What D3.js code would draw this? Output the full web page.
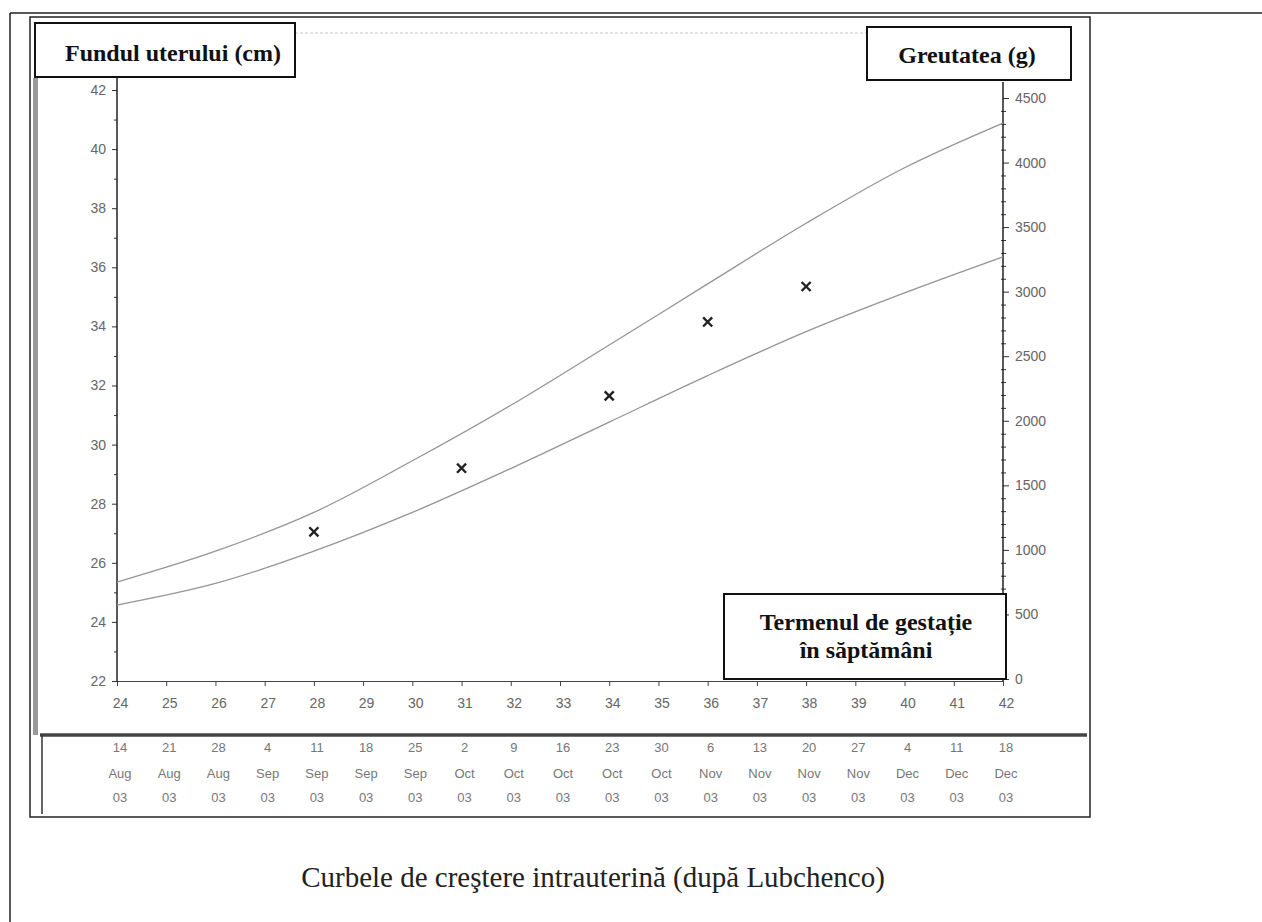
<!DOCTYPE html>
<html>
<head>
<meta charset="utf-8">
<script src="https://cdn.jsdelivr.net/npm/d3@7"></script>
<style>
  html, body { margin: 0; padding: 0; background: #fff; }
  svg { display: block; }
</style>
</head>
<body>
<svg id="chart" width="1262" height="922"></svg>
<script>
// ---------------- DATA ----------------
const weekTicks = [24,25,26,27,28,29,30,31,32,33,34,35,36,37,38,39,40,41,42];
const dateDays = ["14","21","28","4","11","18","25","2","9","16","23","30","6","13","20","27","4","11","18"];
const dateMonths = ["Aug","Aug","Aug","Sep","Sep","Sep","Sep","Oct","Oct","Oct","Oct","Oct","Nov","Nov","Nov","Nov","Dec","Dec","Dec"];
const dateYears = ["03","03","03","03","03","03","03","03","03","03","03","03","03","03","03","03","03","03","03"];

const cmTicks = [22,24,26,28,30,32,34,36,38,40,42];
const gTicks = [0,500,1000,1500,2000,2500,3000,3500,4000,4500];

// growth curves (grams, right axis)
const curveWeeks = [24,26,28,30,32,34,36,38,40,42];
const upperCurve = [751,990,1290,1690,2120,2587,3060,3530,3960,4306];
const lowerCurve = [573,740,990,1290,1630,1990,2350,2690,2990,3269];

// measured fundal height (cm, left axis)
const pointWeeks = [28,31,34,36,38];
const pointCm = [27.05,29.2,31.65,34.15,35.35];

// ---------------- DRAW ----------------
const svg = d3.select("#chart");

const x = d3.scaleLinear().domain([24,42]).range([117,1003]);
const yL = d3.scaleLinear().domain([22,42]).range([681,90]);
const yR = d3.scaleLinear().domain([0,4500]).range([679,98]);

// outer frame
svg.append("line").attr("x1",10).attr("x2",10).attr("y1",13).attr("y2",922)
  .attr("stroke","#222").attr("stroke-width",1.5);
svg.append("line").attr("x1",10).attr("x2",1262).attr("y1",13).attr("y2",13)
  .attr("stroke","#222").attr("stroke-width",1.5);

// inner frame
svg.append("rect").attr("x",30).attr("y",17).attr("width",1060).attr("height",800)
  .attr("fill","none").attr("stroke","#222").attr("stroke-width",1.5);
// left grey band
svg.append("rect").attr("x",33).attr("y",78).attr("width",5).attr("height",657)
  .attr("fill","#9a9a9a");
// top faint plot edge
svg.append("line").attr("x1",295).attr("x2",867).attr("y1",33).attr("y2",33)
  .attr("stroke","#c8c8c8").attr("stroke-width",1).attr("stroke-dasharray","3,2");

// date table separator
svg.append("line").attr("x1",40).attr("x2",1087).attr("y1",735).attr("y2",735)
  .attr("stroke","#444").attr("stroke-width",3.5);
svg.append("line").attr("x1",42).attr("x2",42).attr("y1",735).attr("y2",814)
  .attr("stroke","#333").attr("stroke-width",1.5);

const tickFont = "'Liberation Sans', Arial, sans-serif";

// left axis
const gL = svg.append("g").attr("transform","translate(117,0)")
  .call(d3.axisLeft(yL).tickValues(cmTicks).tickSize(5).tickSizeOuter(0).tickPadding(6));
gL.select(".domain").remove();
gL.selectAll("line").attr("stroke","#333");
gL.selectAll("text").attr("font-family",tickFont).attr("font-size",14).attr("fill","#666");
const gLm = svg.append("g").attr("transform","translate(117,0)")
  .call(d3.axisLeft(yL).tickValues([23,25,27,29,31,33,35,37,39,41]).tickSize(3).tickFormat(""));
gLm.select(".domain").remove();
gLm.selectAll("line").attr("stroke","#333");
svg.append("line").attr("x1",117).attr("x2",117).attr("y1",78).attr("y2",681)
  .attr("stroke","#222").attr("stroke-width",1.5);

// right axis
const gR = svg.append("g").attr("transform","translate(1003,0)")
  .call(d3.axisRight(yR).tickValues(gTicks).tickFormat(d3.format("d")).tickSize(6).tickSizeOuter(0).tickPadding(6));
gR.select(".domain").remove();
gR.selectAll("line").attr("stroke","#333");
gR.selectAll("text").attr("font-family",tickFont).attr("font-size",14).attr("fill","#666");
const minorG = d3.range(100,4600,100).filter(v => v % 500 !== 0);
const gRm = svg.append("g").attr("transform","translate(1003,0)")
  .call(d3.axisRight(yR).tickValues(minorG).tickSize(3).tickFormat(""));
gRm.select(".domain").remove();
gRm.selectAll("line").attr("stroke","#333").attr("x1",-2);
svg.append("line").attr("x1",1003).attr("x2",1003).attr("y1",82).attr("y2",681)
  .attr("stroke","#222").attr("stroke-width",1.5);

// bottom axis
const gB = svg.append("g").attr("transform","translate(0,681)")
  .call(d3.axisBottom(x).tickValues(weekTicks).tickSize(5).tickSizeOuter(0).tickPadding(12));
gB.select(".domain").attr("stroke","#444").attr("stroke-width",1.2);
gB.selectAll("line").attr("stroke","#444");
gB.selectAll("text").attr("font-family",tickFont).attr("font-size",14).attr("fill","#666")
  .attr("dx",3);

// date rows
const dateRows = [dateDays, dateMonths, dateYears];
const rowY = [752, 778, 802];
dateRows.forEach((row, ri) => {
  svg.append("g").selectAll("text").data(row).join("text")
    .attr("x",(d,i) => x(weekTicks[i]) + 3)
    .attr("y", rowY[ri])
    .attr("text-anchor","middle")
    .attr("font-family",tickFont).attr("font-size",13).attr("fill","#777")
    .text(d => d);
});

// curves
const line = d3.line().x((d,i) => x(curveWeeks[i])).y(d => yR(d)).curve(d3.curveCatmullRom.alpha(0.5));
[upperCurve, lowerCurve].forEach(c => {
  svg.append("path").datum(c).attr("d", line)
    .attr("fill","none").attr("stroke","#959595").attr("stroke-width",1.3);
});

// points
svg.append("g").selectAll("path").data(pointCm).join("path")
  .attr("transform",(d,i) => `translate(${x(pointWeeks[i])},${yL(d)})`)
  .attr("d", d3.symbol(d3.symbolTimes, 55)())
  .attr("fill","none").attr("stroke","#222").attr("stroke-width",2.4);

// label boxes
const serif = "'Liberation Serif', 'Times New Roman', serif";
function box(x0, y0, w, h) {
  svg.append("rect").attr("x",x0).attr("y",y0).attr("width",w).attr("height",h)
    .attr("fill","#fff").attr("stroke","#111").attr("stroke-width",2);
}
box(35, 23, 260, 54);
svg.append("text").attr("x",173).attr("y",61).attr("text-anchor","middle")
  .attr("font-family",serif).attr("font-weight","bold").attr("font-size",24).attr("fill","#111")
  .text("Fundul uterului (cm)");

box(867, 27, 204, 53);
svg.append("text").attr("x",967).attr("y",63).attr("text-anchor","middle")
  .attr("font-family",serif).attr("font-weight","bold").attr("font-size",24).attr("fill","#111")
  .text("Greutatea (g)");

box(724, 594, 282, 85);
svg.append("text").attr("x",866).attr("y",630).attr("text-anchor","middle")
  .attr("font-family",serif).attr("font-weight","bold").attr("font-size",24).attr("fill","#111")
  .text("Termenul de gestație");
svg.append("text").attr("x",866).attr("y",658).attr("text-anchor","middle")
  .attr("font-family",serif).attr("font-weight","bold").attr("font-size",24).attr("fill","#111")
  .text("în săptămâni");

// caption
svg.append("text").attr("x",593).attr("y",887).attr("text-anchor","middle")
  .attr("font-family",serif).attr("font-size",29).attr("fill","#222")
  .text("Curbele de creştere intrauterină (după Lubchenco)");
</script>
</body>
</html>
